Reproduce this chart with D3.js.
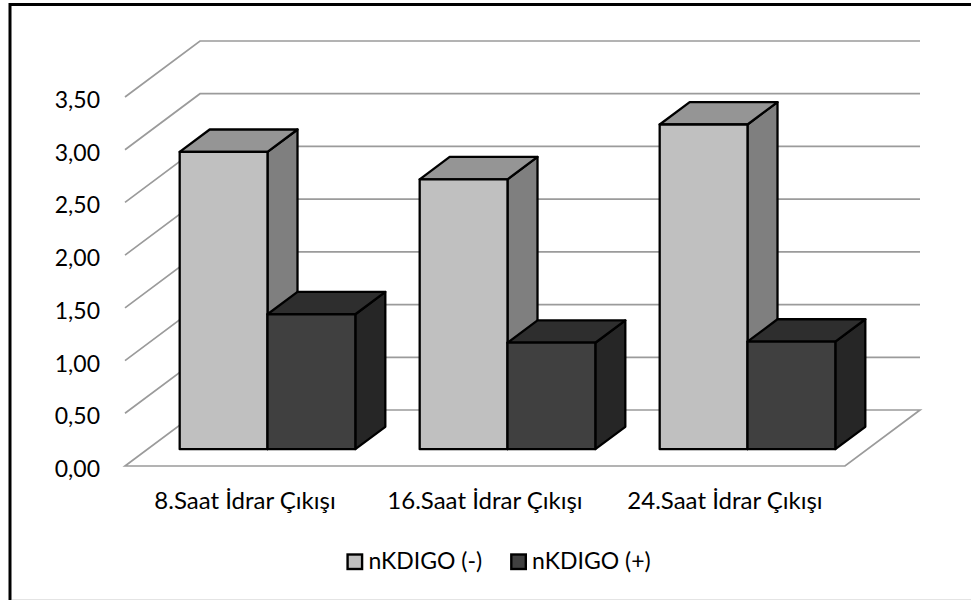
<!DOCTYPE html>
<html>
<head>
<meta charset="utf-8">
<script src="https://cdn.jsdelivr.net/npm/d3@7/dist/d3.min.js"></script>
<style>
  html, body { margin: 0; padding: 0; background: #ffffff; }
  svg { display: block; }
  text { font-family: Lato, "Open Sans", sans-serif; fill: #000; }
</style>
</head>
<body>
<svg id="chart" width="971" height="600"></svg>
<script>
// ---- data ----
const categories = ["8.Saat İdrar Çıkışı", "16.Saat İdrar Çıkışı", "24.Saat İdrar Çıkışı"];
const seriesNames = ["nKDIGO (-)", "nKDIGO (+)"];
const negValues = [2.82, 2.56, 3.08];   // nKDIGO (-)
const posValues = [1.28, 1.01, 1.02];   // nKDIGO (+)
const yTicks = [0, 0.5, 1, 1.5, 2, 2.5, 3, 3.5];

// ---- styles ----
const faceColors = [
  { front: "#c0c0c0", top: "#959595", side: "#7f7f7f" },
  { front: "#404040", top: "#2e2e2e", side: "#262626" }
];
const gridColor = "#9b9b9b";

// ---- layout of the 3D box ----
const floorLeft = 125, floorRight = 845;    // front edge of the floor
const depthX = 75, depthY = 56;             // oblique depth of the plot box
const slope = depthY / depthX;
const barFront = 22.5, barBack = 52.5;      // depth range occupied by the bars

const svg = d3.select("#chart");

const fmt = d3.formatLocale({ decimal: ",", thousands: ".", grouping: [3], currency: ["", ""] }).format(".2f");

const y = d3.scaleLinear().domain([0, 3.5]).range([466, 97]);
const x0 = d3.scaleBand().domain(categories).range([floorLeft, floorRight]).padding(0);
const x1 = d3.scaleBand().domain(seriesNames).range([0, x0.bandwidth()]).paddingInner(0).paddingOuter(0.3665);

// project a point (front-plane x, value, depth) onto the screen
const P = (x, v, z) => [x + z, y(v) - z * slope];

// outer chart border
svg.append("rect")
  .attr("x", 10).attr("y", 4.5)
  .attr("width", 1000).attr("height", 700)
  .attr("fill", "none").attr("stroke", "#000").attr("stroke-width", 3);
svg.append("line")
  .attr("x1", 12).attr("x2", 971).attr("y1", 599.5).attr("y2", 599.5)
  .attr("stroke", "#e4e4e4").attr("stroke-width", 1);

// gridlines on the side wall and back wall
const grid = svg.append("g")
  .attr("fill", "none").attr("stroke", gridColor).attr("stroke-width", 1.7);
yTicks.filter(t => t > 0).forEach(t => {
  const a = P(floorLeft, t, 0), b = P(floorLeft, t, depthX), c = P(floorRight, t, depthX);
  grid.append("polyline").attr("points", [a, b, c].map(p => p.join(",")).join(" "));
});
// floor outline
{
  const pts = [P(floorLeft, 0, 0), P(floorLeft, 0, depthX), P(floorRight, 0, depthX), P(floorRight, 0, 0)];
  grid.append("polygon").attr("points", pts.map(p => p.join(",")).join(" "));
}

// y-axis labels
svg.append("g").selectAll("text")
  .data(yTicks)
  .join("text")
  .attr("x", 100)
  .attr("y", d => y(d) + 2)
  .attr("text-anchor", "end")
  .attr("dominant-baseline", "central")
  .style("font-size", "23px")
  .text(d => fmt(d));

// 3D bars
const seriesValues = [negValues, posValues];
const bars = [];
categories.forEach((cat, i) => {
  seriesNames.forEach((s, j) => {
    bars.push({ cat, s, j, v: seriesValues[j][i] });
  });
});

const barG = svg.append("g")
  .attr("stroke", "#000").attr("stroke-width", 2.3).attr("stroke-linejoin", "round");

bars.forEach(d => {
  const xl = x0(d.cat) + x1(d.s);
  const xr = xl + x1.bandwidth();
  const col = faceColors[d.j];
  const g = barG.append("g");
  const poly = (pts, fill) => g.append("polygon")
    .attr("points", pts.map(p => p.join(",")).join(" "))
    .attr("fill", fill);
  poly([P(xr, 0, barFront), P(xr, 0, barBack), P(xr, d.v, barBack), P(xr, d.v, barFront)], col.side);
  poly([P(xl, d.v, barFront), P(xr, d.v, barFront), P(xr, d.v, barBack), P(xl, d.v, barBack)], col.top);
  poly([P(xl, 0, barFront), P(xr, 0, barFront), P(xr, d.v, barFront), P(xl, d.v, barFront)], col.front);
});

// category labels
svg.append("g").selectAll("text")
  .data(categories)
  .join("text")
  .attr("x", d => x0(d) + x0.bandwidth() / 2)
  .attr("y", 509)
  .attr("text-anchor", "middle")
  .style("font-size", "24px")
  .text(d => d);

// legend
const legend = svg.append("g");
const items = seriesNames.map((name, j) => {
  const g = legend.append("g");
  g.append("rect")
    .attr("x", 1.2).attr("y", -14.5)
    .attr("width", 14.5).attr("height", 14.5)
    .attr("fill", faceColors[j].front)
    .attr("stroke", "#000").attr("stroke-width", 2.4);
  const t = g.append("text")
    .attr("x", 22).attr("y", 0)
    .style("font-size", "23px")
    .text(name);
  return { g, w: 22 + t.node().getComputedTextLength() };
});
const gap = 28;
const total = d3.sum(items, d => d.w) + gap * (items.length - 1);
let lx = 498.5 - total / 2;
items.forEach(it => {
  it.g.attr("transform", `translate(${lx},569)`);
  lx += it.w + gap;
});
</script>
</body>
</html>
